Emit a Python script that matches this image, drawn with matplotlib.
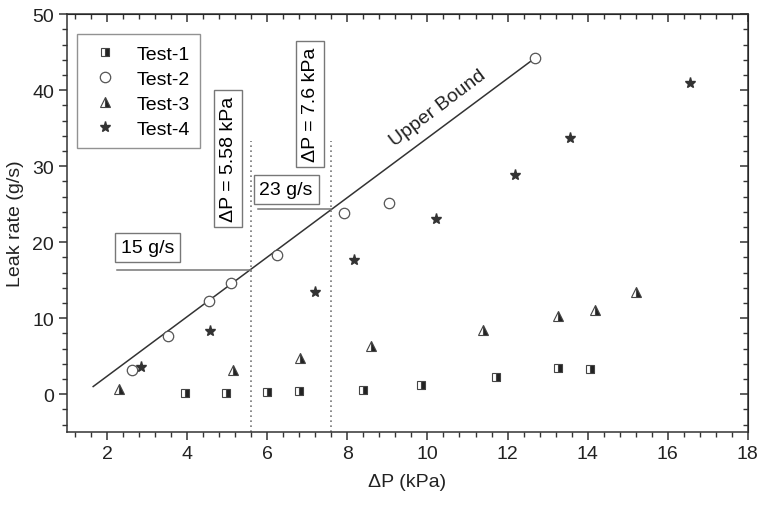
import numpy as np
import matplotlib.pyplot as plt
from matplotlib.ticker import MultipleLocator

plt.rcParams['font.family'] = ['Liberation Sans', 'DejaVu Sans']
plt.rcParams['font.size'] = 14

# data
t1_x = [3.95, 4.97, 6.0, 6.8, 8.4, 9.84, 11.7, 13.25, 14.05]
t1_y = [0.1, 0.2, 0.3, 0.4, 0.6, 1.2, 2.2, 3.4, 3.3]
t2_x = [2.62, 3.52, 4.54, 5.09, 6.24, 7.91, 9.04, 12.68]
t2_y = [3.2, 7.7, 12.2, 14.6, 18.3, 23.9, 25.1, 44.2]
t3_x = [2.3, 5.14, 6.82, 8.59, 11.38, 13.26, 14.18, 15.2]
t3_y = [0.7, 3.2, 4.7, 6.3, 8.4, 10.3, 11.1, 13.5]
t4_x = [2.85, 4.57, 7.19, 8.16, 10.21, 12.18, 13.56, 16.55]
t4_y = [3.6, 8.3, 13.4, 17.6, 23.0, 28.8, 33.7, 40.9]

bound_x = [1.65, 12.68]
bound_y = [1.0, 44.2]
dp_lines = [5.58, 7.6]
dp_top = 33.3

c = '#333333'
fig = plt.figure(figsize=(7.63, 5.06), dpi=100)
ax = fig.add_axes([0.088, 0.144, 0.892, 0.826])

ax.plot(bound_x, bound_y, '-', color=c, lw=1.1)
ax.plot(t1_x, t1_y, 's', ls='none', ms=6, color='#222', fillstyle='right',
        markerfacecoloralt='white', mec='#444', mew=0.8, label='Test-1')
ax.plot(t2_x, t2_y, 'o', ls='none', ms=7.5, mfc='white', mec='#555', mew=0.9, label='Test-2')
ax.plot(t3_x, t3_y, '^', ls='none', ms=7, color='#222', fillstyle='right',
        markerfacecoloralt='white', mec='#444', mew=0.8, label='Test-3')
ax.plot(t4_x, t4_y, '*', ls='none', ms=8, color='#333', mec='#333', label='Test-4')

for xv in dp_lines:
    ax.plot([xv, xv], [-5, dp_top], ls=(0, (1, 2)), color='#777', lw=1.2)

ax.plot([2.25, 5.58], [16.4, 16.4], color='#777', lw=1.1)
ax.plot([5.77, 7.6], [24.3, 24.3], color='#777', lw=1.1)

box = dict(boxstyle='square,pad=0.3', fc='white', ec='#777', lw=1)
ax.text(3.0, 19.3, '15 g/s', ha='center', va='center', bbox=box)
ax.text(6.47, 26.9, '23 g/s', ha='center', va='center', bbox=box)
ax.text(5.02, 31.0, 'ΔP = 5.58 kPa', rotation=90, ha='center', va='center', bbox=box)
ax.text(7.07, 38.2, 'ΔP = 7.6 kPa', rotation=90, ha='center', va='center', bbox=box)
ax.text(10.26, 37.7, 'Upper Bound', rotation=37, ha='center', va='center',
        rotation_mode='anchor', color='#222')

ax.set_xlim(1, 18)
ax.set_ylim(-5, 50)
ax.xaxis.set_major_locator(MultipleLocator(2))
ax.xaxis.set_minor_locator(MultipleLocator(0.4))
ax.yaxis.set_major_locator(MultipleLocator(10))
ax.yaxis.set_minor_locator(MultipleLocator(2))
ax.tick_params(which='both', direction='out', top=False, right=False, color='#333',
               labelcolor='#222')
ax.tick_params(which='major', length=6, width=1.1, labelsize=14)
ax.tick_params(which='minor', length=3.5, width=1)

# inward ticks on top and right
tx = ax.secondary_xaxis('top')
tx.xaxis.set_major_locator(MultipleLocator(2))
tx.xaxis.set_minor_locator(MultipleLocator(0.4))
tx.tick_params(which='both', direction='in', labeltop=False, color='#333')
tx.tick_params(which='major', length=6, width=1.1)
tx.tick_params(which='minor', length=3.5, width=1)
ty = ax.secondary_yaxis('right')
ty.yaxis.set_major_locator(MultipleLocator(10))
ty.yaxis.set_minor_locator(MultipleLocator(2))
ty.tick_params(which='both', direction='in', labelright=False, color='#333')
ty.tick_params(which='major', length=6, width=1.1)
ty.tick_params(which='minor', length=3.5, width=1)

for s in ax.spines.values():
    s.set_linewidth(1.1)
    s.set_color('#333')

ax.set_xlabel('ΔP (kPa)', color='#222', labelpad=8)
ax.set_ylabel('Leak rate (g/s)', color='#222', labelpad=6)

leg = ax.legend(loc='upper left', bbox_to_anchor=(0.0, 0.975), frameon=True,
                fancybox=False, edgecolor='#777', handletextpad=0.7,
                borderpad=0.55, labelspacing=0.38, numpoints=1, handlelength=1.8)
leg.get_frame().set_linewidth(1)

fig.savefig('out.png', dpi=100)
